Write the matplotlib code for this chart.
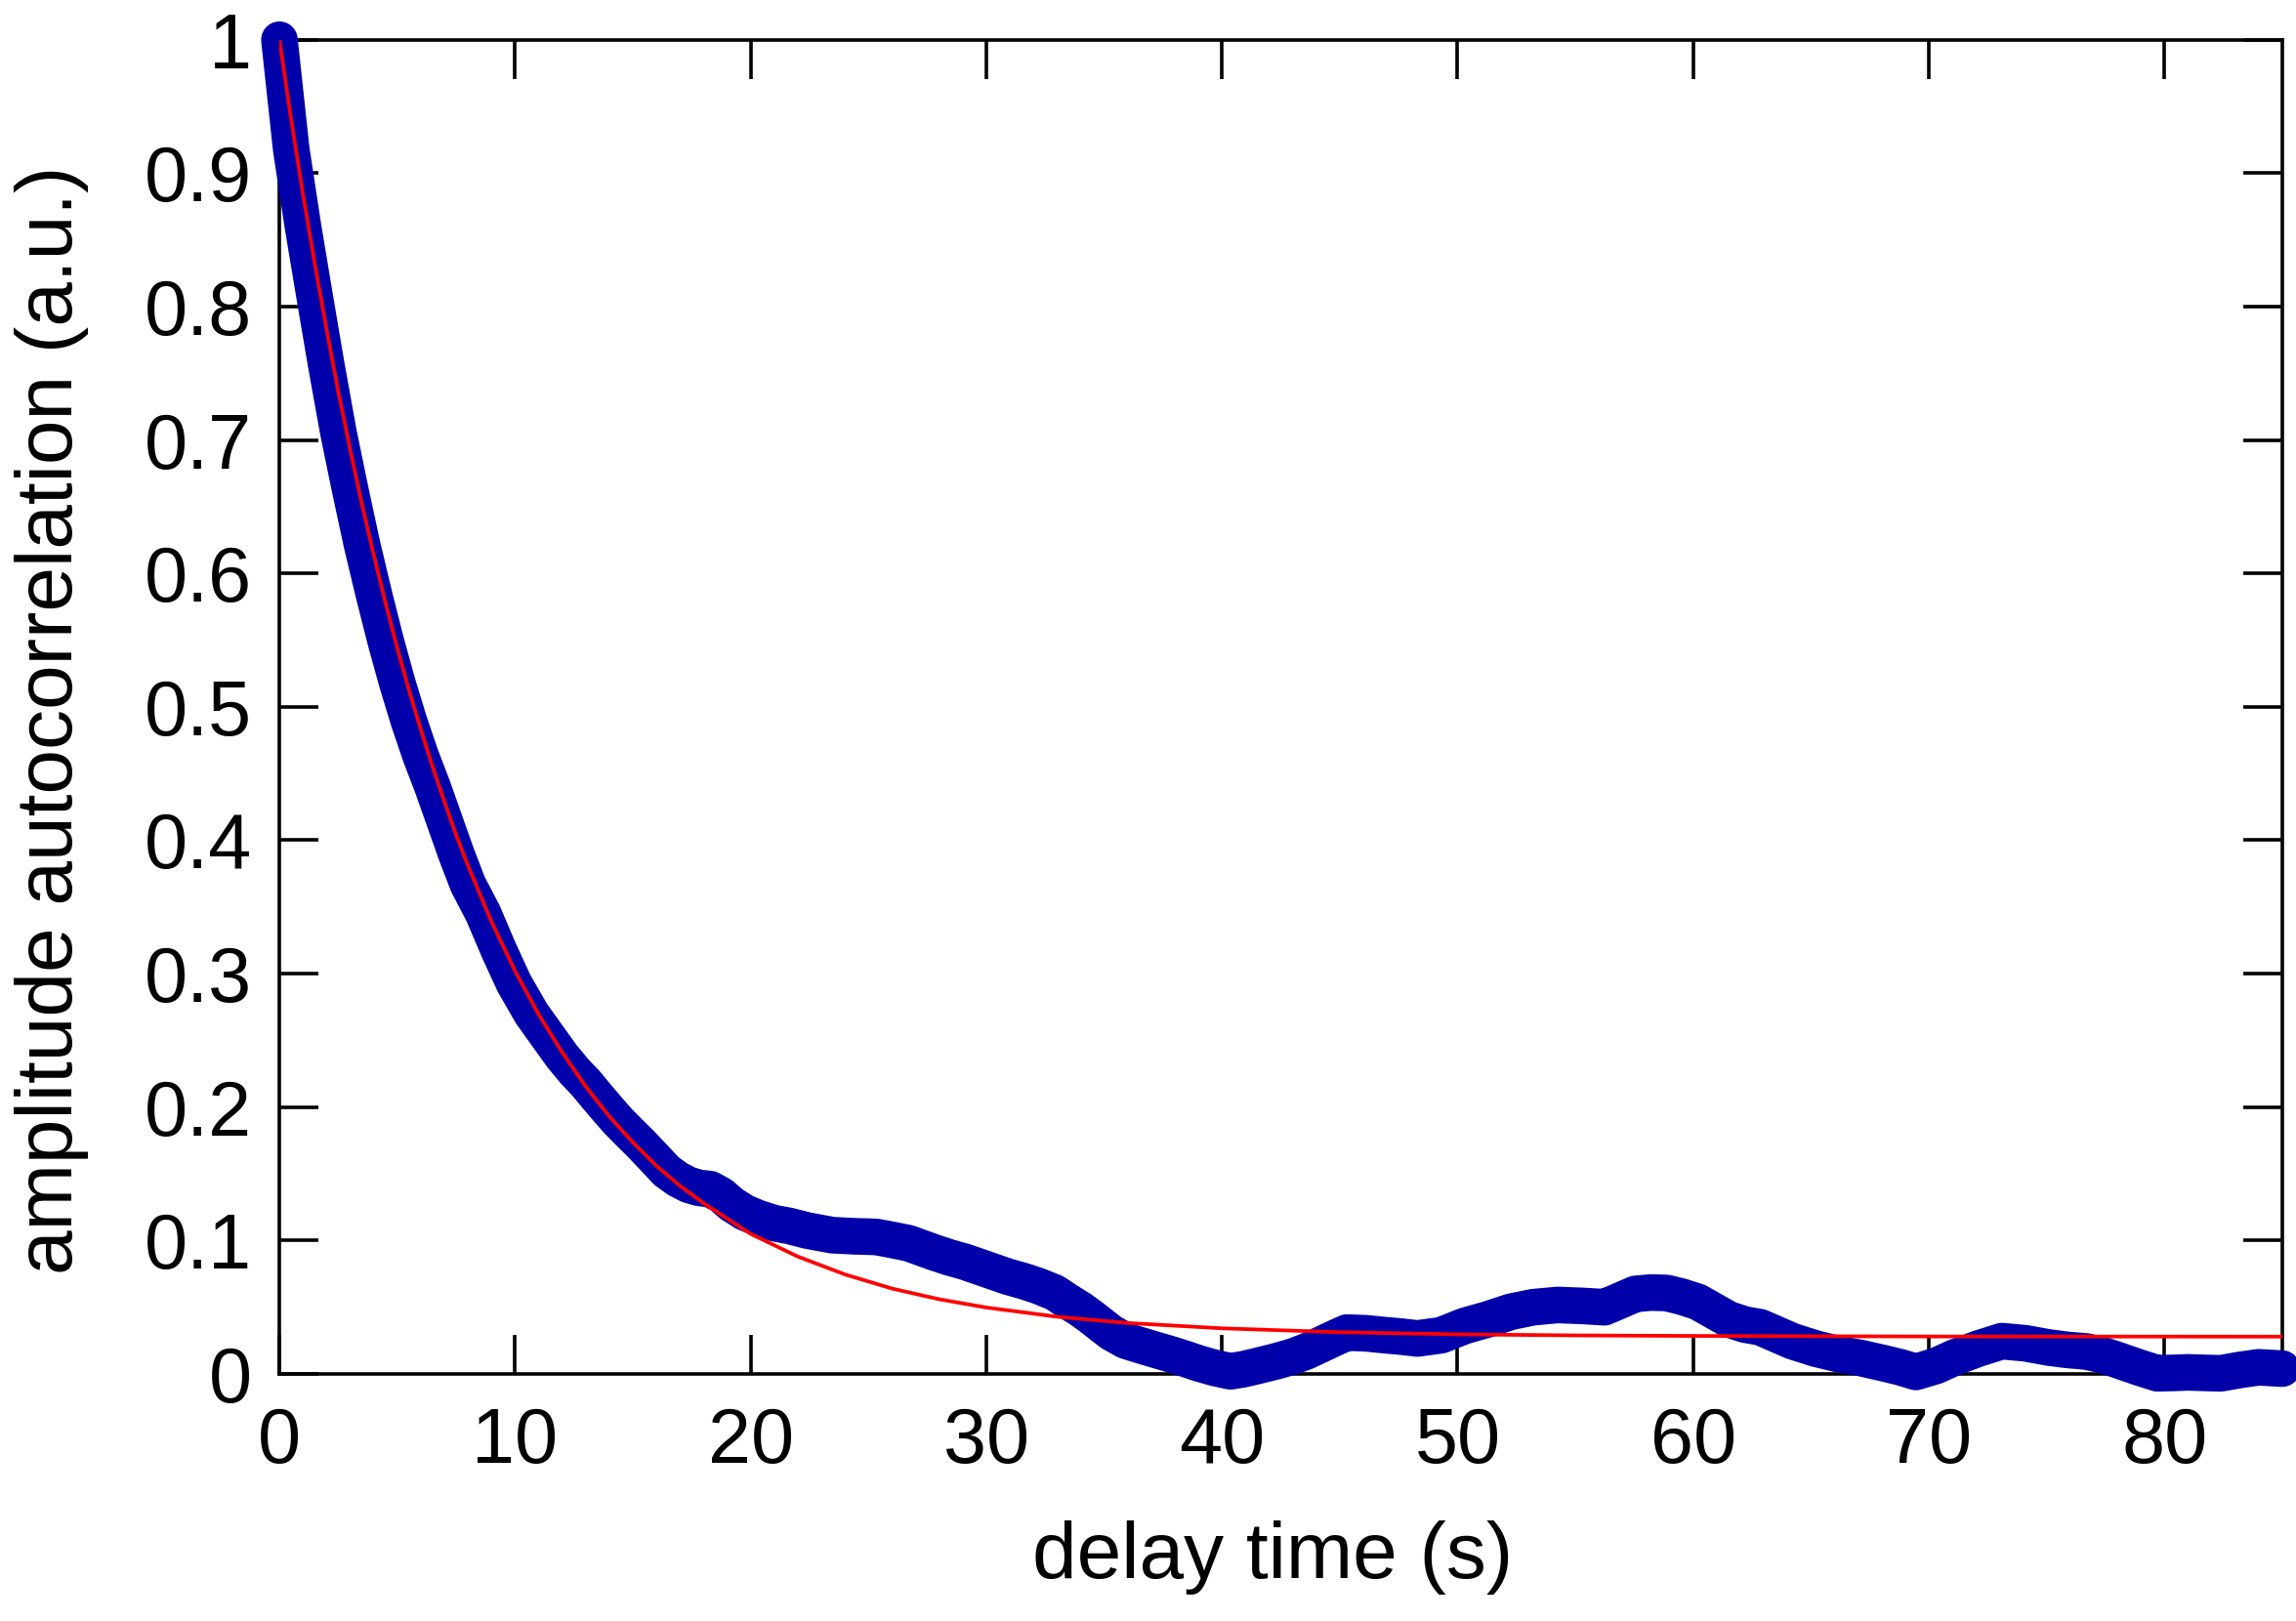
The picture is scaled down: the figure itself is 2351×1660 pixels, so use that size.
"""
plot.py
-------
Amplitude autocorrelation vs delay time, with the exponential fit on top.
"""

import matplotlib
matplotlib.use('Agg')
import matplotlib.pyplot as plt
from matplotlib.ticker import FormatStrFormatter

# measured autocorrelation (blue)
delay_s = [
    0.0, 0.5, 1.0, 1.5, 2.0, 2.5, 3.0, 3.5, 4.0, 4.5, 5.0, 5.5, 6.0, 6.5,
    7.0, 7.5, 8.0, 8.65, 9.3, 9.95, 10.7, 11.43, 12.0, 12.54, 13.0, 13.47,
    14.0, 14.4, 14.85, 15.32, 15.9, 16.43, 16.9, 17.36, 17.8, 18.29, 18.75,
    19.21, 19.75, 20.32, 21.0, 21.62, 22.4, 23.47, 24.4, 25.33, 26.0, 26.7,
    27.8, 28.4, 29.1, 30.0, 30.9, 31.6, 32.2, 32.9, 33.5, 34.0, 34.43, 34.9,
    35.3, 35.9, 36.5, 37.2, 37.9, 38.5, 39.0, 39.7, 40.36, 40.9, 41.5, 42.3,
    43.0, 43.6, 44.2, 44.8, 45.3, 46.1, 46.96, 47.6, 48.3, 49.3, 50.3, 51.3,
    52.26, 53.2, 54.24, 55.3, 56.23, 56.9, 57.55, 58.2, 58.87, 59.5, 60.2,
    60.8, 61.5, 62.2, 62.85, 63.5, 64.2, 65.2, 66.15, 67.1, 68.1, 68.8,
    69.45, 70.3, 71.1, 72.1, 73.1, 74.1, 75.1, 75.9, 76.7, 77.4, 78.0, 78.9,
    79.7, 80.4, 81.0, 81.7, 82.4, 83.2, 84.0, 85.0,
]
autocorr = [
    1.0, 0.918, 0.86, 0.807, 0.755, 0.706, 0.663, 0.622, 0.585, 0.55, 0.518,
    0.489, 0.463, 0.44, 0.415, 0.39, 0.367, 0.345, 0.318, 0.293, 0.27, 0.252,
    0.238, 0.2265, 0.218, 0.208, 0.197, 0.189, 0.181, 0.1728, 0.162, 0.152,
    0.146, 0.1418, 0.1395, 0.1385, 0.134, 0.127, 0.121, 0.1168, 0.113, 0.111,
    0.1075, 0.104, 0.1032, 0.1027, 0.1005, 0.098, 0.091, 0.0875, 0.084,
    0.0785, 0.073, 0.0695, 0.066, 0.061, 0.054, 0.0485, 0.043, 0.0365,
    0.031, 0.025, 0.0217, 0.018, 0.0144, 0.011, 0.008, 0.0045, 0.002,
    0.0035, 0.006, 0.0095, 0.013, 0.017, 0.022, 0.027, 0.031, 0.0305, 0.029,
    0.028, 0.0266, 0.029, 0.036, 0.041, 0.0466, 0.050, 0.0517, 0.051, 0.050,
    0.055, 0.060, 0.061, 0.0607, 0.058, 0.054, 0.048, 0.041, 0.037, 0.035,
    0.030, 0.0246, 0.019, 0.0149, 0.012, 0.008, 0.005, 0.0015, 0.006,
    0.0124, 0.019, 0.0246, 0.023, 0.0198, 0.018, 0.0168, 0.014, 0.0105,
    0.005, 0.0005, 0.0008, 0.0012, 0.0008, 0.0005, 0.003, 0.005, 0.004,
]

# exponential fit (red)
fit_delay_s = [
    0, 0.5, 1, 1.5, 2, 2.5, 3, 3.5, 4, 4.5, 5, 5.5, 6, 6.5, 7, 7.5, 8, 9,
    10, 11, 12, 13, 14, 15, 16, 17, 18, 20, 22, 24, 26, 28, 30, 33, 36, 40,
    45, 50, 55, 60, 70, 85,
]
fit_autocorr = [
    1.0, 0.940, 0.884, 0.832, 0.783, 0.736, 0.693, 0.652, 0.614, 0.578,
    0.544, 0.5125, 0.483, 0.455, 0.429, 0.404, 0.381, 0.339, 0.302, 0.2695,
    0.241, 0.2155, 0.193, 0.1736, 0.156, 0.141, 0.128, 0.105, 0.088, 0.0746,
    0.064, 0.056, 0.0498, 0.0429, 0.0382, 0.0342, 0.0313, 0.0297, 0.0289,
    0.0285, 0.0281, 0.028,
]

x_ticks = [0, 10, 20, 30, 40, 50, 60, 70, 80]
y_ticks = [0, 0.1, 0.2, 0.3, 0.4, 0.5, 0.6, 0.7, 0.8, 0.9, 1.0]

plt.rcParams['font.family'] = ['Liberation Sans', 'DejaVu Sans']


def plot_autocorrelation(path='out.png'):
    fig = plt.figure(figsize=(23.51, 16.60), dpi=100)
    ax = fig.add_axes([0.1217, 0.1524, 0.8723, 0.8231])

    ax.plot(delay_s, autocorr, color='#0000AA', linewidth=27,
            solid_capstyle='round', solid_joinstyle='round',
            clip_on=False, zorder=3)
    ax.plot(fit_delay_s, fit_autocorr, color='#FF0000', linewidth=2.7,
            zorder=4)

    ax.set_xlim(0, 85)
    ax.set_ylim(0, 1)
    ax.set_xticks(x_ticks)
    ax.set_yticks(y_ticks)
    ax.yaxis.set_major_formatter(FormatStrFormatter('%g'))

    for side in ax.spines.values():
        side.set_linewidth(2.6)
    ax.tick_params(direction='in', length=29, width=2.6, labelsize=57,
                   top=True, right=True, pad=20)
    ax.tick_params(axis='x', pad=24)

    ax.set_xlabel('delay time (s)', fontsize=59)
    ax.set_ylabel('amplitude autocorrelation (a.u.)', fontsize=59)
    ax.xaxis.set_label_coords(0.496, -0.110)
    ax.yaxis.set_label_coords(-0.095, 0.49)

    fig.savefig(path, dpi=100)
    plt.close(fig)
    return path


if __name__ == '__main__':
    plot_autocorrelation()
